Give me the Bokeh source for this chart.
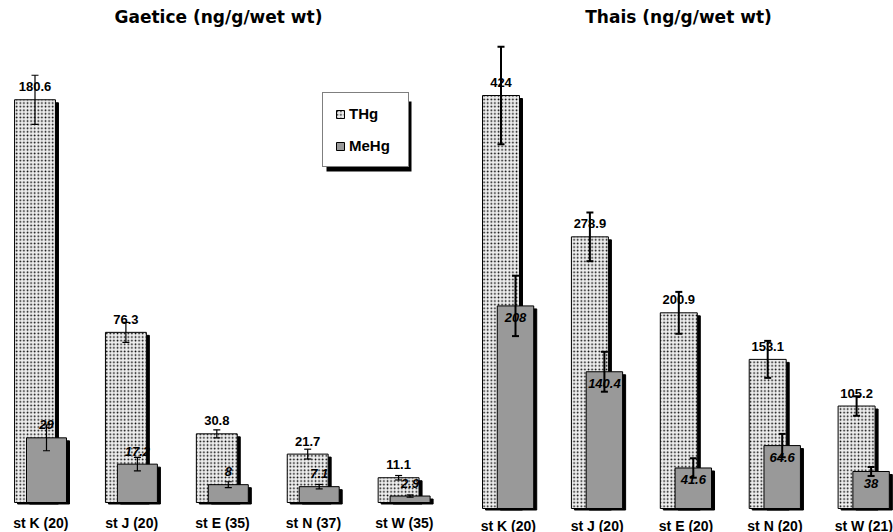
import numpy as np
from bokeh.plotting import figure
from bokeh.models import (ColumnDataSource, Range1d, Whisker, TeeHead, Legend,
                          LegendItem, BoxAnnotation)
from bokeh.layouts import row
from bokeh.core.properties import value
from bokeh.embed import file_html
from bokeh.resources import INLINE

# ---------------- data ----------------
gaetice_title = "Gaetice (ng/g/wet wt)"
gaetice_sites = ["st K (20)", "st J (20)", "st E (35)", "st N (37)", "st W (35)"]
gaetice_thg = [180.6, 76.3, 30.8, 21.7, 11.1]
gaetice_thg_err = [11.0, 4.5, 1.8, 2.2, 1.0]
gaetice_mehg = [29, 17.2, 8, 7.1, 2.9]
gaetice_mehg_err = [5.8, 3.0, 1.3, 1.0, 0.5]

thais_title = "Thais (ng/g/wet wt)"
thais_sites = ["st K (20)", "st J (20)", "st E (20)", "st N (20)", "st W (21)"]
thais_thg = [424, 278.9, 200.9, 153.1, 105.2]
thais_thg_err = [50, 25, 21.5, 19, 10]
thais_mehg = [208, 140.4, 41.6, 64.6, 38]
thais_mehg_err = [31, 20.5, 10, 12, 4.6]

series_names = ["THg", "MeHg"]

H = 532
FONT_NAME = "Liberation Sans"
FONT = value(FONT_NAME)


def panel(title, sites, thg, thg_err, mehg, mehg_err, width, px_x, x0px,
          px_y, base_px, title_px, bw_t, bw_m, off_px, lw, inside,
          cat_off, legend=False):
    n = len(sites)
    xs = np.arange(n, dtype=float)
    x_start = -x0px / px_x
    x_end = x_start + width / px_x
    y_start = -(H - base_px) / px_y
    y_end = base_px / px_y
    p = figure(width=width, height=H, x_range=Range1d(x_start, x_end),
               y_range=Range1d(y_start, y_end), output_backend="svg",
               toolbar_location=None, x_axis_location=None,
               y_axis_location=None, min_border=0)
    p.outline_line_color = None
    p.grid.visible = False
    p.background_fill_color = "white"

    off = off_px / px_x
    shx = 3.0 / px_x
    shy = 3.0 / px_y
    thg = np.array(thg, float)
    mehg = np.array(mehg, float)
    te = np.array(thg_err, float)
    me = np.array(mehg_err, float)
    src = ColumnDataSource(dict(
        x=xs, xm=xs + off, xl=xs + off / 2, xs_t=xs + shx, xs_m=xs + off + shx,
        thg=thg, mehg=mehg, thg_sh=thg - shy, mehg_sh=mehg - shy,
        thg_lo=thg - te, thg_hi=thg + te, mehg_lo=mehg - me, mehg_hi=mehg + me,
        thg_lbl=[f"{v:g}" for v in thg], mehg_lbl=[f"{v:g}" for v in mehg],
        site=sites, zero=[0.0] * n, shb=[-shy * 0.5] * n))

    # THg shadow + bar
    p.vbar(x="xs_t", top="thg_sh", bottom="shb", width=bw_t, source=src,
           fill_color="black", line_color="black")
    r_thg = p.vbar(x="x", top="thg", bottom=0, width=bw_t, source=src,
                   fill_color="#eeeeee", line_color="black", line_width=1,
                   hatch_pattern="dot", hatch_color="black", hatch_scale=3.6,
                   hatch_weight=0.8)
    # MeHg shadow + bar
    p.vbar(x="xs_m", top="mehg_sh", bottom="shb", width=bw_m, source=src,
           fill_color="black", line_color="black")
    r_mehg = p.vbar(x="xm", top="mehg", bottom=0, width=bw_m, source=src,
                    fill_color="#999999", line_color="black", line_width=1)

    # value labels
    p.text(x="x", y="thg", text="thg_lbl", source=src, text_align="center",
           text_baseline="middle", y_offset=-13, text_font=FONT,
           text_font_style="bold", text_font_size="13px", text_color="black")
    p.text(x="xm", y="mehg", text="mehg_lbl", source=src, text_align="center",
           text_baseline="middle", y_offset=(12 if inside else -13),
           text_font=FONT, text_font_style="bold italic",
           text_font_size="13px", text_color="black")
    # category labels
    p.text(x="xl", y="zero", text="site", source=src, text_align="center",
           text_baseline="middle", y_offset=cat_off, text_font=FONT,
           text_font_style="bold", text_font_size="14px", text_color="black")
    # title
    p.text(x=[x_start + title_px / px_x], y=[y_end - 16 / px_y], text=[title],
           text_align="center", text_baseline="middle",
           text_font=value("DejaVu Sans"), text_font_style="bold",
           text_font_size="17px", text_color="black")

    # error bars
    for base, lo, hi in (("x", "thg_lo", "thg_hi"), ("xm", "mehg_lo", "mehg_hi")):
        w = Whisker(source=src, base=base, lower=lo, upper=hi,
                    line_color="black", line_width=lw, level="overlay",
                    upper_head=TeeHead(size=7, line_width=lw, line_color="black"),
                    lower_head=TeeHead(size=7, line_width=lw, line_color="black"))
        p.add_layout(w)

    if legend:
        def dx(px):
            return x_start + px / px_x

        def dy(py):
            return y_end - py / px_y
        shadow = BoxAnnotation(left=dx(326), right=dx(411), top=dy(101),
                               bottom=dy(171), fill_color="black",
                               fill_alpha=1.0, line_color=None)
        p.add_layout(shadow)
        lg = Legend(items=[LegendItem(label=series_names[0], renderers=[r_thg], index=0),
                           LegendItem(label=series_names[1], renderers=[r_mehg], index=0)],
                    location=(322, H - 167), margin=0, padding=12, spacing=15,
                    glyph_width=10, glyph_height=10, label_height=16,
                    label_width=47, label_standoff=4,
                    label_text_font=FONT_NAME, label_text_font_style="bold",
                    label_text_font_size="15px", label_text_color="black",
                    border_line_color="black",
                    border_line_width=1, background_fill_color="white",
                    background_fill_alpha=1.0)
        p.add_layout(lg)
    return p


left = panel(gaetice_title, gaetice_sites, gaetice_thg, gaetice_thg_err,
             gaetice_mehg, gaetice_mehg_err, width=453, px_x=90.9, x0px=34.5,
             px_y=2.23, base_px=502, title_px=218, bw_t=0.45, bw_m=0.44,
             off_px=11.5, lw=1.2, inside=False, cat_off=20, legend=True)
right = panel(thais_title, thais_sites, thais_thg, thais_thg_err,
              thais_mehg, thais_mehg_err, width=440, px_x=88.9, x0px=47.5,
              px_y=0.974, base_px=508, title_px=225, bw_t=0.416, bw_m=0.41,
              off_px=14.5, lw=2, inside=True, cat_off=17)

layout = row(left, right)
open("out.html", "w").write(file_html(layout, INLINE))
